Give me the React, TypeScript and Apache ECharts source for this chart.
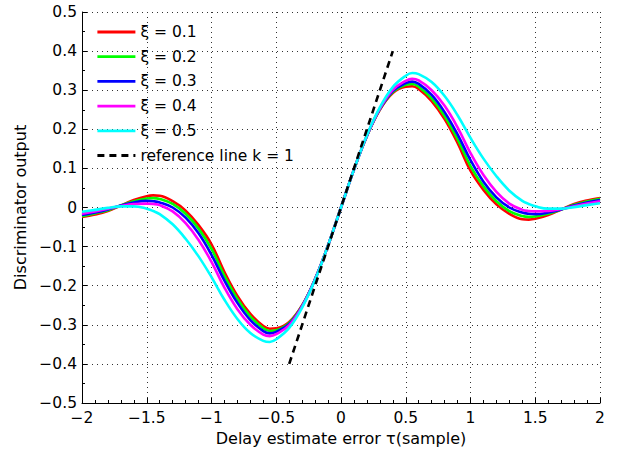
import React, { useEffect, useRef } from "react";
import * as echarts from "echarts";

const tau = [
  -2, -1.9, -1.8, -1.7, -1.6, -1.5, -1.45, -1.4, -1.3, -1.2, -1.1, -1, -0.9, -0.8, -0.7, -0.6, -0.55, -0.5, -0.4, -0.3, -0.2, -0.1,
  0, 0.1, 0.2, 0.3, 0.4, 0.5, 0.55, 0.6, 0.7, 0.8, 0.9, 1, 1.1, 1.2, 1.3, 1.4, 1.45, 1.5, 1.6, 1.7, 1.8, 1.9, 2,
];

const xi01 = [
  -0.024, -0.018, -0.009, 0.005, 0.019, 0.029, 0.031, 0.030, 0.016, -0.008, -0.045, -0.094, -0.165, -0.226, -0.272, -0.303, -0.310, -0.309, -0.293, -0.25, -0.183, -0.097,
  0, 0.097, 0.183, 0.25, 0.293, 0.309, 0.31, 0.303, 0.272, 0.226, 0.165, 0.094, 0.045, 0.008, -0.016, -0.03, -0.031, -0.029, -0.019, -0.005, 0.009, 0.018, 0.024,
];
const xi02 = [
  -0.022, -0.015, -0.007, 0.005, 0.016, 0.023, 0.024, 0.022, 0.009, -0.016, -0.054, -0.106, -0.175, -0.234, -0.279, -0.309, -0.316, -0.314, -0.295, -0.251, -0.183, -0.097,
  0, 0.097, 0.183, 0.251, 0.295, 0.314, 0.316, 0.309, 0.279, 0.234, 0.175, 0.106, 0.054, 0.016, -0.009, -0.022, -0.024, -0.023, -0.016, -0.005, 0.007, 0.015, 0.022,
];
const xi03 = [
  -0.019, -0.013, -0.005, 0.005, 0.013, 0.017, 0.016, 0.013, 0.0, -0.026, -0.066, -0.121, -0.187, -0.244, -0.288, -0.316, -0.322, -0.318, -0.298, -0.252, -0.183, -0.097,
  0, 0.097, 0.183, 0.252, 0.298, 0.318, 0.322, 0.316, 0.288, 0.244, 0.187, 0.121, 0.066, 0.026, 0.0, -0.013, -0.016, -0.017, -0.013, -0.005, 0.005, 0.013, 0.019,
];
const xi04 = [
  -0.016, -0.01, -0.003, 0.004, 0.009, 0.01, 0.009, 0.006, -0.01, -0.04, -0.083, -0.139, -0.205, -0.26, -0.3, -0.325, -0.329, -0.324, -0.301, -0.253, -0.184, -0.097,
  0, 0.097, 0.184, 0.253, 0.301, 0.324, 0.329, 0.325, 0.3, 0.26, 0.205, 0.139, 0.083, 0.04, 0.01, -0.006, -0.009, -0.01, -0.009, -0.004, 0.003, 0.01, 0.016,
];
const xi05 = [
  -0.011, -0.006, -0.001, 0.003, 0.003, -0.003, -0.009, -0.017, -0.043, -0.08, -0.125, -0.178, -0.236, -0.285, -0.321, -0.341, -0.344, -0.337, -0.308, -0.256, -0.185, -0.097,
  0, 0.097, 0.185, 0.256, 0.308, 0.337, 0.344, 0.341, 0.321, 0.285, 0.236, 0.178, 0.125, 0.08, 0.043, 0.017, 0.009, 0.003, -0.003, -0.003, 0.001, 0.006, 0.011,
];

const refX = [-0.4, 0.4];
const refY = [-0.4, 0.4];

const seriesNames = ["ξ = 0.1", "ξ = 0.2", "ξ = 0.3", "ξ = 0.4", "ξ = 0.5", "reference line k = 1"];
const seriesColors = ["#ff0000", "#00ff00", "#0000ff", "#ff00ff", "#00ffff", "#000000"];
const curveValues = [xi01, xi02, xi03, xi04, xi05];

const FONT = "DejaVu Sans";

const fmt = (v: number, digits: number) => {
  const r = Math.round(v * Math.pow(10, digits)) / Math.pow(10, digits);
  return String(r).replace("-", "\u2212");
};

export default function App() {
  const ref = useRef<HTMLDivElement>(null);
  useEffect(() => {
    if (!ref.current) return;
    const chart = echarts.init(ref.current, undefined, { renderer: "svg" });
    const curves = curveValues.map((vals, k) => ({
      name: seriesNames[k],
      type: "line",
      data: tau.map((t, i) => [t, vals[i]]),
      smooth: 0.4,
      symbol: "none",
      showSymbol: false,
      lineStyle: { color: seriesColors[k], width: 2.6 },
      itemStyle: { color: seriesColors[k] },
    }));
    const refSeries = {
      name: seriesNames[5],
      type: "line",
      data: refX.map((x, i) => [x, refY[i]]),
      symbol: "none",
      showSymbol: false,
      lineStyle: { color: "#000", width: 2.6, type: [7, 5] },
      itemStyle: { color: "#000" },
    };
    chart.setOption({
      animation: false,
      backgroundColor: "#fff",
      textStyle: { fontFamily: FONT },
      grid: { left: 82, right: 23, top: 12, bottom: 53 },
      legend: {
        orient: "vertical",
        left: 96,
        top: 24,
        padding: 0,
        itemWidth: 38,
        itemHeight: 16,
        itemGap: 8.7,
        data: seriesNames,
        itemStyle: { color: "rgba(0,0,0,0)", opacity: 0, borderWidth: 0 },
        lineStyle: { width: 2.8 },
        textStyle: { fontFamily: FONT, fontSize: 15.5, color: "#000", lineHeight: 16 },
      },
      xAxis: {
        type: "value",
        min: -2,
        max: 2,
        interval: 0.5,
        name: "Delay estimate error \u03c4(sample)",
        nameLocation: "middle",
        nameGap: 26,
        nameTextStyle: { fontFamily: FONT, fontSize: 16, color: "#000" },
        axisLine: { show: true, onZero: false, lineStyle: { color: "#000", width: 1 } },
        axisTick: { show: true, inside: true, length: 5, lineStyle: { color: "#000" } },
        minorTick: { show: true, splitNumber: 5, length: 3, lineStyle: { color: "#000" } },
        axisLabel: {
          margin: 7,
          fontFamily: FONT,
          fontSize: 15.5,
          color: "#000",
          formatter: (v: number) => fmt(v, 1),
        },
        splitLine: { show: true, lineStyle: { color: "#333", width: 1, type: [1, 4] } },
      },
      yAxis: {
        type: "value",
        min: -0.5,
        max: 0.5,
        interval: 0.1,
        name: "Discriminator output",
        nameLocation: "middle",
        nameGap: 49,
        nameTextStyle: { fontFamily: FONT, fontSize: 16, color: "#000" },
        axisLine: { show: true, onZero: false, lineStyle: { color: "#000", width: 1 } },
        axisTick: { show: true, inside: true, length: 5, lineStyle: { color: "#000" } },
        minorTick: { show: true, splitNumber: 2, length: 3, lineStyle: { color: "#000" } },
        axisLabel: {
          margin: 5,
          fontFamily: FONT,
          fontSize: 15.5,
          color: "#000",
          formatter: (v: number) => fmt(v, 1),
        },
        splitLine: { show: true, lineStyle: { color: "#333", width: 1, type: [1, 4] } },
      },
      series: [...curves, refSeries],
    });
    return () => chart.dispose();
  }, []);
  return (
    <div
      ref={ref}
      style={{ position: "absolute", left: 0, top: 0, width: 623, height: 456, background: "#fff" }}
    />
  );
}
